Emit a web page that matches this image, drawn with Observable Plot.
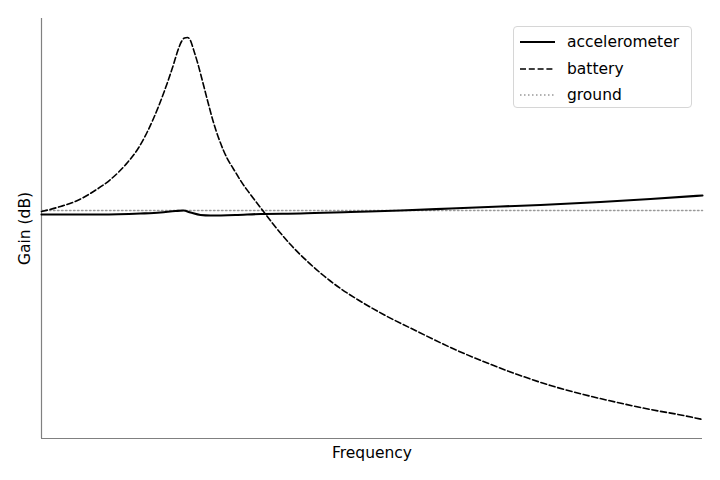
<!DOCTYPE html>
<html>
<head>
<meta charset="utf-8">
<script src="https://cdn.jsdelivr.net/npm/d3@7"></script>
<script src="https://cdn.jsdelivr.net/npm/@observablehq/plot@0.6"></script>
<style>
  body { margin: 0; background: #fff; }
  #wrap { position: relative; width: 720px; height: 480px; font-family: "DejaVu Sans", sans-serif; }
  #legend { position: absolute; left: 513px; top: 26px; width: 179px; height: 82px; border: 1px solid #d6d6d6; border-radius: 4px; background: rgba(255,255,255,0.8); box-sizing: border-box; }
  #legend .row { position: absolute; left: 0; height: 20px; display: flex; align-items: center; font-size: 15.5px; color: #000; }
  #legend svg { margin-left: 6px; margin-right: 12px; }
</style>
</head>
<body>
<div id="wrap">
  <div id="chart"></div>
  <div id="legend"></div>
</div>
<script>
// Frequency (arbitrary units) and gain (dB, relative to ground = 0)
const batteryFreq = [0, 19, 36, 52, 69, 86, 96, 106, 112, 117, 122, 127, 132, 136, 140, 143, 146, 149, 152, 156, 159, 166, 172, 182, 196, 199, 209, 222, 232, 249, 266, 282, 299, 316, 342, 376, 409, 442, 476, 509, 542, 576, 609, 642, 661];
const batteryGain = [-0.1, 0.4, 1.0, 1.9, 3.1, 4.8, 6.1, 7.9, 9.2, 10.4, 11.7, 13.1, 14.6, 15.9, 16.9, 17.25, 17.3, 17.0, 16.1, 14.8, 13.7, 11.0, 8.8, 6.0, 3.5, 3.0, 1.6, -0.1, -1.4, -3.4, -5.1, -6.5, -7.8, -8.9, -10.4, -12.1, -13.7, -15.1, -16.4, -17.5, -18.4, -19.2, -19.9, -20.5, -20.9];

const accelFreq = [0, 59, 99, 119, 134, 142, 149, 159, 169, 194, 219, 259, 309, 359, 409, 459, 499, 559, 609, 661];
const accelGain = [-0.4, -0.4, -0.3, -0.2, -0.05, 0, -0.2, -0.45, -0.5, -0.45, -0.35, -0.3, -0.15, 0, 0.2, 0.4, 0.55, 0.85, 1.15, 1.5];

const groundFreq = [0, 661];
const groundGain = [0, 0];

const seriesNames = ["accelerometer", "battery", "ground"];
const xLabel = "Frequency";
const yLabel = "Gain (dB)";

const toRows = (fs, gs, name) => fs.map((f, i) => ({freq: f, gain: gs[i], series: name}));
const accel = toRows(accelFreq, accelGain, seriesNames[0]);
const battery = toRows(batteryFreq, batteryGain, seriesNames[1]);
const ground = toRows(groundFreq, groundGain, seriesNames[2]);

const xDomain = [0, 661];
const yDomain = [-22.8, 19.2];

const styles = {
  accelerometer: {stroke: "#000", strokeWidth: 2.1, dash: null},
  battery: {stroke: "#000", strokeWidth: 1.6, dash: "6,2.8"},
  ground: {stroke: "#999", strokeWidth: 1.5, dash: "1.5,2.5"}
};

const plot = Plot.plot({
  width: 720,
  height: 480,
  marginLeft: 41,
  marginRight: 18,
  marginTop: 18,
  marginBottom: 42,
  style: {fontFamily: "DejaVu Sans, sans-serif", fontSize: "15.5px", background: "#fff"},
  x: {domain: xDomain, axis: null},
  y: {domain: yDomain, axis: null},
  marks: [
    Plot.ruleX([xDomain[0]], {stroke: "#808080", strokeWidth: 1.2}),
    Plot.ruleY([yDomain[0]], {stroke: "#808080", strokeWidth: 1.2}),
    Plot.line(ground, {x: "freq", y: "gain", stroke: styles.ground.stroke, strokeWidth: styles.ground.strokeWidth, strokeDasharray: styles.ground.dash}),
    Plot.line(battery, {x: "freq", y: "gain", stroke: styles.battery.stroke, strokeWidth: styles.battery.strokeWidth, strokeDasharray: styles.battery.dash, curve: "monotone-x"}),
    Plot.line(accel, {x: "freq", y: "gain", stroke: styles.accelerometer.stroke, strokeWidth: styles.accelerometer.strokeWidth, curve: "monotone-x"}),
    Plot.text([xLabel], {frameAnchor: "bottom", dy: 15, text: d => d, fontSize: 15.5, fill: "#000", lineAnchor: "middle", textAnchor: "middle"}),
    Plot.text([yLabel], {frameAnchor: "left", dx: -16, rotate: -90, text: d => d, fontSize: 15.5, fill: "#000", lineAnchor: "middle", textAnchor: "middle"})
  ]
});
document.getElementById("chart").appendChild(plot);

const legend = document.getElementById("legend");
seriesNames.forEach((name, i) => {
  const s = styles[name];
  const row = document.createElement("div");
  row.className = "row";
  row.style.top = (5 + i * 26.5) + "px";
  row.innerHTML = `<svg width="35" height="10"><line x1="0" x2="35" y1="5" y2="5" stroke="${s.stroke}" stroke-width="${s.strokeWidth}" ${s.dash ? `stroke-dasharray="${s.dash}"` : ""}/></svg><span>${name}</span>`;
  legend.appendChild(row);
});
</script>
</body>
</html>
